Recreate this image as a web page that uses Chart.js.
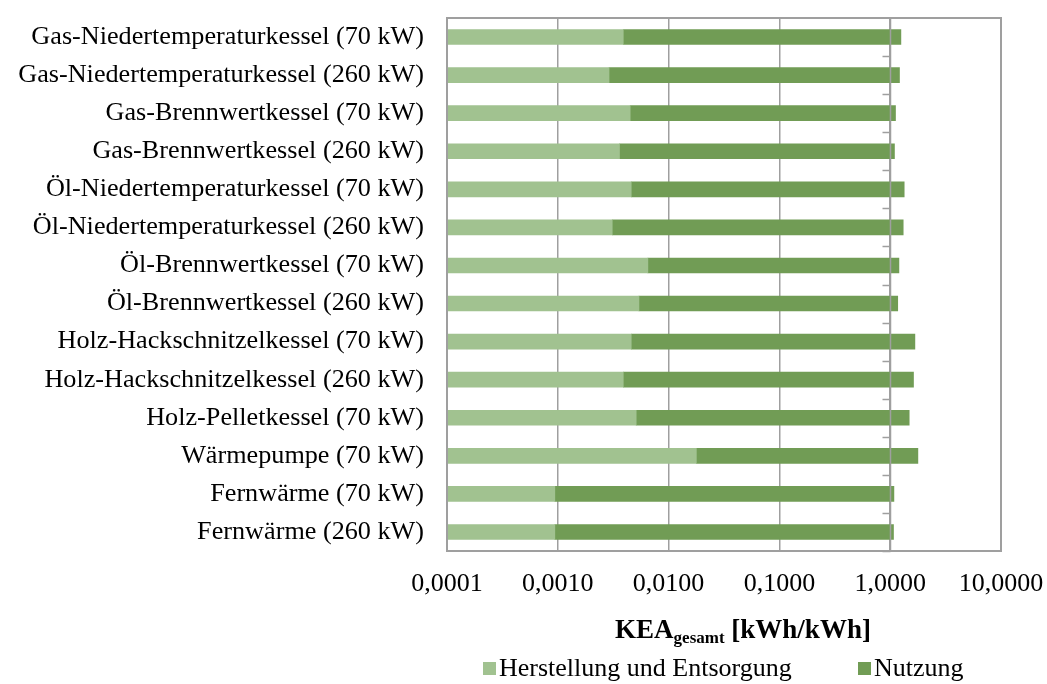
<!DOCTYPE html>
<html>
<head>
<meta charset="utf-8">
<script src="https://cdn.jsdelivr.net/npm/chart.js@4/dist/chart.umd.min.js"></script>
<style>
  html, body { margin: 0; padding: 0; background: #fff; }
  #wrap { width: 1047px; height: 684px; }
</style>
</head>
<body>
<div id="wrap"><canvas id="kea" width="1047" height="684"></canvas></div>
<script>
// Data (KEA gesamt, kWh/kWh)
const categories = [
  'Gas-Niedertemperaturkessel (70 kW)',
  'Gas-Niedertemperaturkessel (260 kW)',
  'Gas-Brennwertkessel (70 kW)',
  'Gas-Brennwertkessel (260 kW)',
  'Öl-Niedertemperaturkessel (70 kW)',
  'Öl-Niedertemperaturkessel (260 kW)',
  'Öl-Brennwertkessel (70 kW)',
  'Öl-Brennwertkessel (260 kW)',
  'Holz-Hackschnitzelkessel (70 kW)',
  'Holz-Hackschnitzelkessel (260 kW)',
  'Holz-Pelletkessel (70 kW)',
  'Wärmepumpe (70 kW)',
  'Fernwärme (70 kW)',
  'Fernwärme (260 kW)'
];
const herstellung = [0.0039, 0.0029, 0.0045, 0.0036, 0.0046, 0.0031, 0.0065, 0.0054, 0.0046, 0.0039, 0.0051, 0.0178, 0.00094, 0.00094];
const nutzung = [1.245, 1.210, 1.112, 1.089, 1.333, 1.307, 1.192, 1.164, 1.666, 1.619, 1.479, 1.760, 1.079, 1.070];
const xTicks = [0.0001, 0.001, 0.01, 0.1, 1, 10];
const seriesNames = ['Herstellung und Entsorgung', 'Nutzung'];

const colLight = '#a1c290';
const colDark = '#719c55';
const gridCol = '#9f9f9f';
const fontFam = '"Liberation Serif", "Times New Roman", serif';

// frame, axis at 1,0 with tick marks, title with subscript, legend
const extras = {
  id: 'extras',
  afterDatasetsDraw(chart) {
    const ctx = chart.ctx;
    const a = chart.chartArea;
    const x = chart.scales.x;
    const n = categories.length;
    const step = (a.bottom - a.top) / n;
    ctx.save();
    ctx.strokeStyle = gridCol;
    ctx.lineWidth = 2;
    ctx.strokeRect(a.left, a.top, a.right - a.left, a.bottom - a.top);
    // vertical axis crosses at 1,0
    const x1 = Math.round(x.getPixelForValue(1)) + 0.5;
    ctx.lineWidth = 1.5;
    ctx.beginPath();
    ctx.moveTo(x1, a.top);
    ctx.lineTo(x1, a.bottom);
    for (let i = 1; i <= n; i++) {
      const yy = Math.round(a.top + i * step) + 0.5;
      ctx.moveTo(x1 - 8, yy);
      ctx.lineTo(x1, yy);
    }
    ctx.stroke();
    ctx.restore();
  },
  afterDraw(chart) {
    const ctx = chart.ctx;
    ctx.save();
    ctx.fillStyle = '#000';
    ctx.textBaseline = 'middle';
    // axis title KEA_gesamt [kWh/kWh]
    const big = 'bold 27px ' + fontFam;
    const small = 'bold 17px ' + fontFam;
    ctx.font = big;
    const w1 = ctx.measureText('KEA').width;
    const w3 = ctx.measureText(' [kWh/kWh]').width;
    ctx.font = small;
    const w2 = ctx.measureText('gesamt').width;
    let tx = 743 - (w1 + w2 + w3) / 2;
    const ty = 631;
    ctx.textAlign = 'left';
    ctx.font = big;
    ctx.fillText('KEA', tx, ty);
    ctx.font = small;
    ctx.fillText('gesamt', tx + w1, ty + 8);
    ctx.font = big;
    ctx.fillText(' [kWh/kWh]', tx + w1 + w2, ty);
    // legend
    ctx.font = '26px ' + fontFam;
    const ly = 669;
    const items = [[483, colLight, seriesNames[0]], [858, colDark, seriesNames[1]]];
    items.forEach(([lx, c, t]) => {
      ctx.fillStyle = c;
      ctx.fillRect(lx, ly - 7, 13, 13);
      ctx.fillStyle = '#000';
      ctx.fillText(t, lx + 16, ly);
    });
    ctx.restore();
  }
};

new Chart(document.getElementById('kea').getContext('2d'), {
  type: 'bar',
  data: {
    labels: categories,
    datasets: [
      { label: seriesNames[0], data: herstellung, backgroundColor: colLight, barThickness: 15 },
      { label: seriesNames[1], data: nutzung, backgroundColor: colDark, barThickness: 15 }
    ]
  },
  options: {
    indexAxis: 'y',
    responsive: false,
    animation: false,
    devicePixelRatio: 1,
    layout: { padding: { top: 18, right: 46, left: 0, bottom: 0 } },
    plugins: {
      legend: { display: false },
      tooltip: { enabled: false }
    },
    scales: {
      x: {
        type: 'logarithmic',
        stacked: true,
        min: 0.0001,
        max: 10,
        afterBuildTicks: (s) => { s.ticks = xTicks.map(v => ({ value: v })); },
        afterFit: (s) => {
          s.height = 133;
          s.paddingLeft = 0;
          s.paddingRight = 0;
        },
        ticks: {
          color: '#000',
          font: { family: fontFam, size: 26 },
          padding: 18,
          maxRotation: 0,
          autoSkip: false,
          callback: (v) => Number(v).toFixed(4).replace('.', ',')
        },
        grid: { color: gridCol, lineWidth: 1.5, drawTicks: false },
        border: { display: false }
      },
      y: {
        stacked: true,
        afterFit: (s) => {
          s.width = 447;
          s.paddingTop = 0;
          s.paddingBottom = 0;
        },
        ticks: {
          color: '#000',
          font: { family: fontFam, size: 26.2 },
          padding: 23,
          autoSkip: false
        },
        grid: { display: false, drawTicks: false },
        border: { display: false }
      }
    }
  },
  plugins: [extras]
});
</script>
</body>
</html>
